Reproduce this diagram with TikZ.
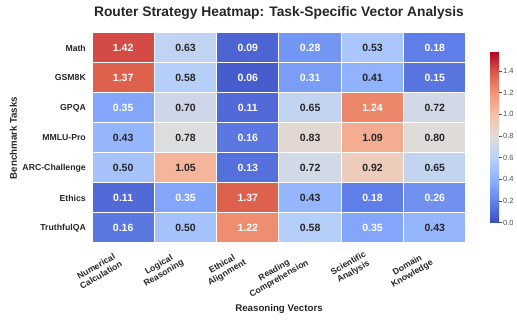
\documentclass[tikz,border=0pt]{standalone}
\usepackage{fontspec}
\setmainfont{Liberation Sans}
\usepackage{tikz}
\usetikzlibrary{positioning}

% coolwarm stops
\definecolor{cw0}{RGB}{59,76,192}
\definecolor{cw1}{RGB}{98,130,234}
\definecolor{cw2}{RGB}{141,176,254}
\definecolor{cw3}{RGB}{184,208,249}
\definecolor{cw4}{RGB}{221,221,221}
\definecolor{cw5}{RGB}{245,196,172}
\definecolor{cw6}{RGB}{244,154,123}
\definecolor{cw7}{RGB}{222,96,77}
\definecolor{cw8}{RGB}{180,4,38}
\definecolor{labelgray}{RGB}{38,38,38}
\definecolor{tickgray}{RGB}{77,77,77}

% sets color 'cellcol' for a value in [0,1.57]
\newcommand{\setcellcol}[1]{%
  \pgfmathsetmacro{\cwt}{min(#1/1.57,0.9999)*8}%
  \pgfmathtruncatemacro{\cwi}{floor(\cwt)}%
  \pgfmathtruncatemacro{\cwj}{\cwi+1}%
  \pgfmathtruncatemacro{\cwp}{round((\cwt-\cwi)*100)}%
  \edef\cwdo{\noexpand\colorlet{cellcol}{cw\cwj!\cwp!cw\cwi}}\cwdo}

\begin{document}
\begin{tikzpicture}[
    x=1pt, y=-1pt,
    cell/.style={rectangle, draw=white, line width=1pt, minimum width=62.33pt, minimum height=30pt, inner sep=0pt, font=\bfseries\fontsize{10.5}{12}\selectfont},
    rowlab/.style={anchor=east, inner sep=0pt, text=labelgray, font=\bfseries\fontsize{8.7}{10}\selectfont},
    collab/.style={anchor=south east, rotate=30, align=center, inner sep=0pt, text=labelgray, font=\bfseries\fontsize{8.7}{9.7}\selectfont},
    axlab/.style={text=labelgray, font=\bfseries\fontsize{9.7}{11}\selectfont},
    cbtick/.style={anchor=west, inner sep=0pt, text=tickgray, font=\fontsize{7.5}{9}\selectfont}
]
\useasboundingbox (0,0) rectangle (517,320);

\node[anchor=base, text=labelgray, font=\bfseries\fontsize{13.8}{16}\selectfont] (title) at (279,16.6) {Router Strategy Heatmap: Task-Specific Vector Analysis};

% heatmap cells
\foreach \name/\vals [count=\r] in {Math/{1.42,0.63,0.09,0.28,0.53,0.18},
    GSM8K/{1.37,0.58,0.06,0.31,0.41,0.15},
    GPQA/{0.35,0.70,0.11,0.65,1.24,0.72},
    MMLU-Pro/{0.43,0.78,0.16,0.83,1.09,0.80},
    ARC-Challenge/{0.50,1.05,0.13,0.72,0.92,0.65},
    Ethics/{0.11,0.35,1.37,0.43,0.18,0.26},
    TruthfulQA/{0.16,0.50,1.22,0.58,0.35,0.43}} {
  \node[rowlab] (row-\r) at (86,{33+30*(\r-0.5)}) {\name};
  \foreach \v [count=\c] in \vals {
    \setcellcol{\v}
    \pgfmathtruncatemacro{\light}{(\v<0.38)||(\v>1.15)}
    \ifnum\light=1 \def\tcol{white}\else\def\tcol{labelgray}\fi
    \node[cell, fill=cellcol, text=\tcol] (c-\r-\c) at ({92+62.33*(\c-0.5)},{33+30*(\r-0.5)}) {\v};
  }
}

% column labels
\foreach \lab [count=\c] in {Numerical\\Calculation, Logical\\Reasoning, Ethical\\Alignment,
    Reading\\Comprehension, Scientific\\Analysis, Domain\\Knowledge}
  \node[collab] (col-\c) at ({92+62.33*(\c-0.5)},266) {\lab};

\node[axlab, rotate=90] (ylab) at (13.5,138) {Benchmark Tasks};
\node[axlab] (xlab) at (279,309) {Reasoning Vectors};

% colorbar
\foreach \k [count=\kk from 1] in {0,...,7}
  \shade[bottom color=cw\k, top color=cw\kk] (490,{222.7-21.25*\k}) rectangle (499,{222.7-21.25*\kk});
\foreach \t [count=\i] in {0.0,0.2,0.4,0.6,0.8,1.0,1.2,1.4} {
  \draw[tickgray, line width=0.6pt] (499,{222.7-108.28*\t}) -- (501.5,{222.7-108.28*\t});
  \node[cbtick] (tick-\i) at (503,{222.7-108.28*\t}) {\t};
}
\end{tikzpicture}
\end{document}
